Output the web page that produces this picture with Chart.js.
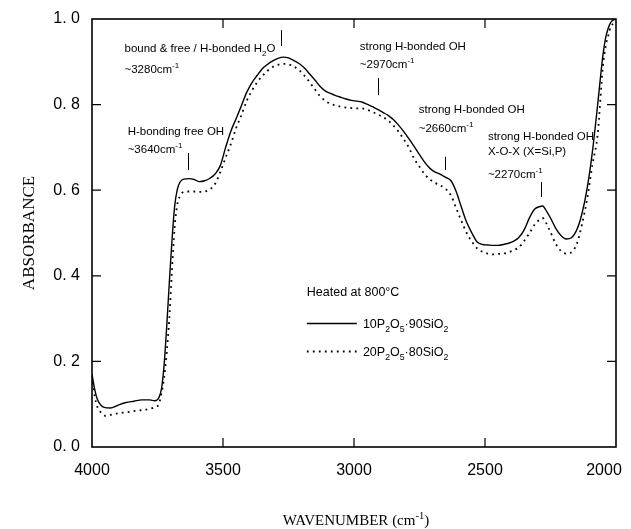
<!DOCTYPE html>
<html><head><meta charset="utf-8">
<script src="https://cdn.jsdelivr.net/npm/chart.js@4.4.1/dist/chart.umd.min.js"></script>
<style>html,body{margin:0;padding:0;background:#fff;}</style>
</head><body>
<canvas id="c" width="631" height="529"></canvas>
<script>
// ---------- DATA ----------
const wavenumbers = [4000,3990,3980,3965,3950,3930,3900,3870,3840,3810,3780,3760,3745,3735,3725,3715,3705,3695,3685,3675,3665,3650,3630,3610,3590,3570,3550,3530,3510,3490,3470,3450,3430,3410,3390,3370,3350,3330,3310,3290,3270,3250,3230,3210,3190,3170,3150,3130,3110,3090,3070,3050,3030,3010,2990,2970,2950,2930,2910,2890,2870,2850,2830,2810,2790,2770,2750,2730,2710,2690,2670,2650,2630,2610,2590,2570,2550,2530,2510,2490,2470,2450,2430,2410,2390,2370,2350,2330,2310,2290,2280,2270,2250,2230,2210,2190,2170,2150,2130,2110,2090,2070,2050,2040,2030,2020,2010,2000];
const absorbance10P = [0.17,0.135,0.112,0.097,0.092,0.091,0.098,0.104,0.107,0.110,0.110,0.108,0.115,0.135,0.19,0.28,0.383,0.48,0.56,0.60,0.618,0.626,0.627,0.625,0.62,0.622,0.628,0.638,0.658,0.70,0.738,0.767,0.797,0.828,0.851,0.868,0.884,0.894,0.902,0.908,0.911,0.909,0.903,0.896,0.886,0.872,0.858,0.843,0.832,0.826,0.821,0.817,0.813,0.810,0.808,0.806,0.801,0.795,0.789,0.782,0.775,0.765,0.752,0.737,0.72,0.702,0.683,0.665,0.651,0.642,0.637,0.63,0.622,0.597,0.56,0.525,0.5,0.479,0.473,0.472,0.471,0.471,0.473,0.476,0.481,0.49,0.508,0.536,0.556,0.562,0.563,0.556,0.535,0.511,0.494,0.486,0.489,0.507,0.545,0.605,0.69,0.80,0.915,0.955,0.978,0.992,0.998,1.0];
const absorbance20P = [0.165,0.12,0.095,0.08,0.073,0.075,0.079,0.081,0.084,0.086,0.089,0.093,0.10,0.125,0.16,0.22,0.30,0.41,0.51,0.565,0.585,0.596,0.597,0.597,0.596,0.597,0.602,0.615,0.643,0.676,0.708,0.745,0.775,0.808,0.832,0.852,0.867,0.879,0.888,0.893,0.895,0.894,0.889,0.881,0.868,0.853,0.836,0.82,0.809,0.802,0.798,0.795,0.793,0.792,0.791,0.791,0.788,0.783,0.777,0.771,0.763,0.751,0.737,0.719,0.699,0.673,0.655,0.637,0.625,0.617,0.611,0.603,0.588,0.558,0.528,0.50,0.48,0.464,0.456,0.452,0.450,0.451,0.452,0.455,0.46,0.467,0.482,0.50,0.52,0.532,0.535,0.527,0.502,0.475,0.458,0.452,0.455,0.474,0.52,0.58,0.66,0.73,0.89,0.935,0.96,0.982,0.99,1.0];
const seriesNames = ["10P_{2}O_{5}·90SiO_{2}", "20P_{2}O_{5}·80SiO_{2}"];
const legendTitle = "Heated at 800°C";
const xTickValues = [4000,3500,3000,2500,2000];
const yTickValues = [0.0,0.2,0.4,0.6,0.8,1.0];
const xAxisTitle = "WAVENUMBER (cm^{-1})";
const yAxisTitle = "ABSORBANCE";
const peakWavenumbers = [3280,3635,2910,2653,2288];
const annotationTexts = [
  ["bound & free / H-bonded H_{2}O","~3280cm^{-1}"],
  ["H-bonding free OH","~3640cm^{-1}"],
  ["strong H-bonded OH","~2970cm^{-1}"],
  ["strong H-bonded OH","~2660cm^{-1}"],
  ["strong H-bonded OH","X-O-X (X=Si,P)","~2270cm^{-1}"]
];

// ---------- LAYOUT (positions in data units) ----------
const markerSpans = [[0.937,0.974],[0.647,0.687],[0.822,0.862],[0.647,0.678],[0.584,0.619]];
const annotationAnchors = [
  {wn:3876, lines:[0.923,0.875]},
  {wn:3864, lines:[0.729,0.687]},
  {wn:2978, lines:[0.928,0.885]},
  {wn:2753, lines:[0.780,0.737]},
  {wn:2489, lines:[0.717,0.682,0.628]}
];
const legendLayout = {wn:3180, title:0.352, rows:[0.290,0.224], lineEnd:2989, textWn:2966};

function parseRich(str){
  const re=/([_^])\{([^}]*)\}/g; const parts=[]; let last=0, m;
  while((m=re.exec(str))){ if(m.index>last) parts.push({t:str.slice(last,m.index),k:''}); parts.push({t:m[2],k:m[1]}); last=re.lastIndex; }
  if(last<str.length) parts.push({t:str.slice(last),k:''});
  return parts;
}
function richWidth(ctx,str,size,family){
  let w=0; for(const p of parseRich(str)){ ctx.font=(p.k?size*0.7:size)+'px '+family; w+=ctx.measureText(p.t).width; } return w;
}
function drawRich(ctx,str,x,y,size,family){
  let cx=x;
  for(const p of parseRich(str)){
    const s=p.k?size*0.7:size;
    ctx.font=s+'px '+family;
    const dy=p.k==='_'?size*0.32:(p.k==='^'?-size*0.42:0);
    ctx.fillText(p.t,cx,y+dy);
    cx+=ctx.measureText(p.t).width;
  }
}

const decorPlugin = {
  id:'decor',
  afterDatasetsDraw(chart){
    const {ctx, chartArea:a, scales:{x,y}} = chart;
    ctx.save();
    ctx.strokeStyle='#000'; ctx.fillStyle='#000';
    ctx.lineWidth=1.6;
    ctx.strokeRect(a.left,a.top,a.right-a.left,a.bottom-a.top);
    ctx.lineWidth=1.2;
    const tl=9;
    ctx.beginPath();
    xTickValues.forEach(v=>{ const px=x.getPixelForValue(v); if(px>a.left+1 && px<a.right-1){ ctx.moveTo(px,a.bottom); ctx.lineTo(px,a.bottom-tl); ctx.moveTo(px,a.top); ctx.lineTo(px,a.top+tl);} });
    yTickValues.forEach(v=>{ const py=y.getPixelForValue(v); if(py>a.top+1 && py<a.bottom-1){ ctx.moveTo(a.left,py); ctx.lineTo(a.left+tl,py); ctx.moveTo(a.right,py); ctx.lineTo(a.right-tl,py);} });
    ctx.stroke();
    ctx.lineWidth=1;
    ctx.beginPath();
    peakWavenumbers.forEach((wn,i)=>{ const px=Math.round(x.getPixelForValue(wn))+0.5; ctx.moveTo(px,y.getPixelForValue(markerSpans[i][0])); ctx.lineTo(px,y.getPixelForValue(markerSpans[i][1])); });
    ctx.stroke();
    ctx.textBaseline='alphabetic'; ctx.textAlign='left';
    const sans='"Liberation Sans", Arial, sans-serif';
    annotationTexts.forEach((lines,i)=>{
      const an=annotationAnchors[i]; const px=x.getPixelForValue(an.wn);
      lines.forEach((t,j)=>drawRich(ctx,t,px,y.getPixelForValue(an.lines[j]),11.5,sans));
    });
    const lx=x.getPixelForValue(legendLayout.wn);
    drawRich(ctx,legendTitle,lx,y.getPixelForValue(legendLayout.title),12.5,sans);
    chart.data.datasets.forEach((ds,i)=>{
      const ry=Math.round(y.getPixelForValue(legendLayout.rows[i]))+0.5;
      ctx.save();
      ctx.lineWidth=ds.borderWidth; ctx.setLineDash(ds.borderDash||[]);
      ctx.beginPath(); ctx.moveTo(lx,ry); ctx.lineTo(x.getPixelForValue(legendLayout.lineEnd),ry); ctx.stroke();
      ctx.restore();
      drawRich(ctx,seriesNames[i],x.getPixelForValue(legendLayout.textWn),ry+4.5,12.5,sans);
    });
    const fam='"Liberation Serif", "Times New Roman", serif';
    const w=richWidth(ctx,xAxisTitle,15,fam);
    drawRich(ctx,xAxisTitle,(a.left+a.right)/2+2-w/2,chart.height-4,15,fam);
    ctx.restore();
  }
};

const toPts = arr => wavenumbers.map((w,i)=>({x:w,y:arr[i]}));

new Chart(document.getElementById('c'),{
  type:'line',
  data:{datasets:[
    {label:'10P2O5·90SiO2', data:toPts(absorbance10P), borderColor:'#000', borderWidth:1.4, pointRadius:0, fill:false, cubicInterpolationMode:'monotone'},
    {label:'20P2O5·80SiO2', data:toPts(absorbance20P), borderColor:'#000', borderWidth:1.8, borderDash:[1.8,4.2], pointRadius:0, fill:false, cubicInterpolationMode:'monotone'}
  ]},
  options:{
    responsive:false, animation:false, devicePixelRatio:1,
    layout:{padding:{top:19,right:15,left:0,bottom:0}},
    plugins:{legend:{display:false}, tooltip:{enabled:false}},
    scales:{
      x:{type:'linear', reverse:true, min:2000, max:4000,
         afterBuildTicks:s=>{ s.ticks=xTickValues.map(v=>({value:v})); },
         afterFit:s=>{ s.height=82; s.paddingLeft=0; s.paddingRight=0; },
         grid:{display:false, drawTicks:false}, border:{display:false},
         ticks:{padding:14, color:'#000', font:{family:'"Liberation Sans", Arial, sans-serif', size:16}, callback:v=>(v===2000?'2000\u2002\u2002\u2002':String(v))}},
      y:{type:'linear', min:0, max:1,
         afterBuildTicks:s=>{ s.ticks=yTickValues.map(v=>({value:v})); },
         afterFit:s=>{ s.width=92; s.paddingTop=0; s.paddingBottom=0; },
         grid:{display:false, drawTicks:false}, border:{display:false},
         title:{display:true, text:yAxisTitle, color:'#000', font:{family:'"Liberation Serif", "Times New Roman", serif', size:17}, padding:{top:19,bottom:0}},
         ticks:{padding:12, color:'#000', font:{family:'"Liberation Sans", Arial, sans-serif', size:16}, callback:v=>Number(v).toFixed(1).replace('.','. ')}}
    }
  },
  plugins:[decorPlugin]
});
</script>
</body></html>
